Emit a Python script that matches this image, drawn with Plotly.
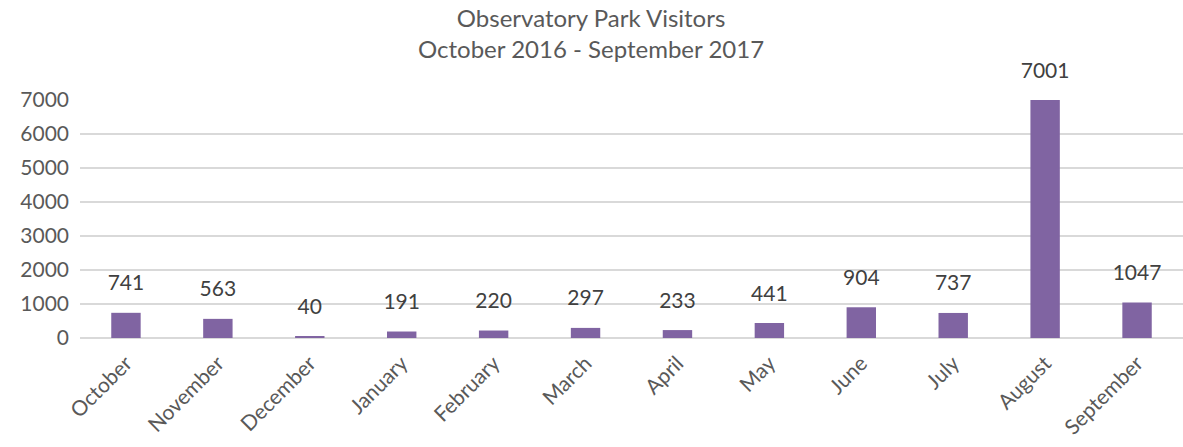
import plotly.graph_objects as go

months = ["October", "November", "December", "January", "February", "March",
          "April", "May", "June", "July", "August", "September"]
visitors = [741, 563, 40, 191, 220, 297, 233, 441, 904, 737, 7001, 1047]
y_ticks = [0, 1000, 2000, 3000, 4000, 5000, 6000, 7000]

FONT = "Lato, 'Open Sans', sans-serif"

fig = go.Figure()
fig.add_trace(go.Bar(
    x=months, y=visitors,
    marker=dict(color="#8064A2", line=dict(width=0)),
    hoverinfo="x+y",
))
fig.add_trace(go.Scatter(
    x=months, y=visitors, mode="markers+text",
    marker=dict(size=26, opacity=0),
    text=[str(v) for v in visitors],
    textposition="top center",
    textfont=dict(family=FONT, size=21, color="#404040"),
    cliponaxis=False, hoverinfo="skip",
))

fig.update_layout(
    width=1183, height=447,
    paper_bgcolor="white", plot_bgcolor="white",
    margin=dict(l=80, r=0, t=100, b=109, autoexpand=False),
    bargap=0.68,
    showlegend=False,
    annotations=[dict(
        text="Observatory Park Visitors<br>October 2016 - September 2017",
        x=0.4637, xref="paper", y=1.28, yref="paper",
        xanchor="center", yanchor="middle", showarrow=False,
        font=dict(family=FONT, size=24, color="#595959"),
    )],
)
fig.update_xaxes(
    range=[-0.5, len(months) - 0.5],
    tickangle=-45, tickfont=dict(family=FONT, size=21, color="#595959"),
    showline=False, showgrid=False, ticks="", automargin=False,
    ticklabelstandoff=8,
)
fig.update_yaxes(
    range=[0, 7002], tickvals=y_ticks,
    tickfont=dict(family=FONT, size=21, color="#595959"),
    showgrid=True, gridcolor="#D9D9D9", gridwidth=1.5,
    zeroline=True, zerolinecolor="#D9D9D9", zerolinewidth=1.5,
    ticks="", ticklabelstandoff=10, automargin=False,
)
fig.write_html(
    "out.html",
    config={"displayModeBar": False},
    post_script="document.body.style.margin='0';document.body.style.overflow='hidden';",
)
